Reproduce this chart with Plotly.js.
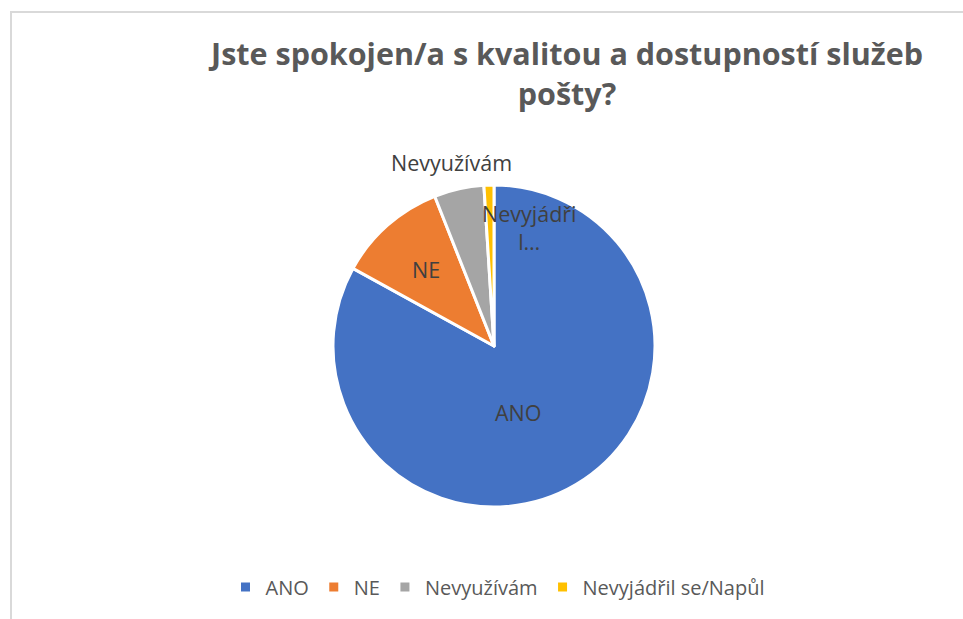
<!DOCTYPE html>
<html>
<head>
<meta charset="utf-8">
<script src="https://cdn.plot.ly/plotly-3.0.1.min.js"></script>
<style>
html,body{margin:0;padding:0;background:#fff;}
#wrap{position:relative;width:963px;height:619px;overflow:hidden;}
#chart{position:absolute;left:0;top:0;width:963px;height:619px;}
#frame{position:absolute;left:10px;top:11px;right:-5px;bottom:-5px;border-left:2px solid #d9d9d9;border-top:2px solid #d9d9d9;pointer-events:none;}
</style>
</head>
<body>
<div id="wrap"><div id="chart"></div><div id="frame"></div></div>
<script>
const categories = ['ANO', 'NE', 'Nevyužívám', 'Nevyjádřil se/Napůl'];
const values = [83, 11, 5, 1];
const colors = ['#4472c4', '#ed7d31', '#a5a5a5', '#ffc000'];
const sliceLabels = ['ANO', 'NE', 'Nevyužívám', 'Nevyjádři<br>l…'];
const titleText = 'Jste spokojen/a s kvalitou a dostupností služeb<br>pošty?';

const W = 963, H = 619;
const font = '"Open Sans", "Noto Sans", sans-serif';

const labelPos = [[518, 412], [426, 270], [451, 162], [529, 227]];
const annotations = sliceLabels.map((t, i) => ({
  text: t, showarrow: false, xref: 'paper', yref: 'paper',
  x: labelPos[i][0] / W, y: 1 - labelPos[i][1] / H,
  xanchor: 'center', yanchor: 'middle',
  font: {family: font, size: 21.5, color: '#404040'}
}));

const trace = {
  type: 'pie',
  labels: categories,
  values: values,
  sort: false,
  direction: 'clockwise',
  rotation: 0,
  textinfo: 'none',
  hoverinfo: 'label+value',
  marker: {colors: colors, line: {color: '#ffffff', width: 3}},
  domain: {x: [333 / W, 655 / W], y: [1 - 507 / H, 1 - 185 / H]}
};

const layout = {
  width: W, height: H,
  margin: {l: 0, r: 0, t: 0, b: 0},
  paper_bgcolor: '#ffffff',
  showlegend: true,
  title: {
    text: titleText,
    x: 567 / W, xanchor: 'center',
    xref: 'paper', yref: 'container',
    y: 1 - 65 / H, yanchor: 'top',
    font: {family: font, size: 30.5, color: '#595959', weight: 'bold'}
  },
  legend: {
    orientation: 'h', x: 498 / W, xanchor: 'center',
    y: 1 - 587 / H, yanchor: 'middle',
    font: {family: font, size: 20, color: '#595959'},
    traceorder: 'normal'
  },
  annotations: annotations
};

Plotly.newPlot('chart', [trace], layout, {displayModeBar: false, staticPlot: true});
</script>
</body>
</html>
